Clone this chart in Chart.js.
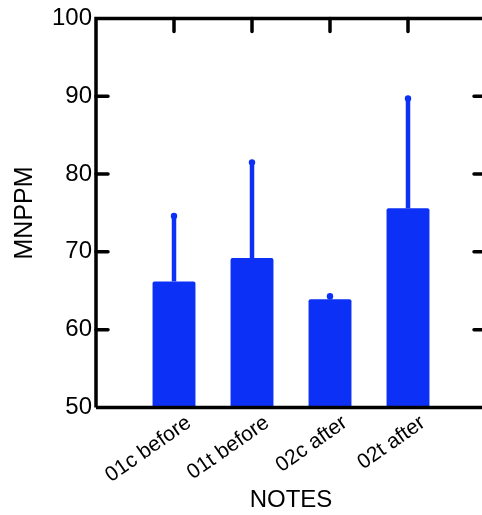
<!DOCTYPE html>
<html>
<head>
<meta charset="utf-8">
<script src="https://cdn.jsdelivr.net/npm/chart.js@4/dist/chart.umd.min.js"></script>
<style>
  html, body { margin: 0; padding: 0; background: #fff; overflow: hidden; }
  #wrap { width: 490px; height: 515px; }
</style>
</head>
<body>
<div id="wrap"><canvas id="chart"></canvas></div>
<script>
// group means with the upper error (SD) on top of each bar
const NOTES = ["01c before", "01t before", "02c after", "02t after"];
const MNPPM = [66.2, 69.2, 63.9, 75.6];
const SD = [8.4, 12.3, 0.4, 14.1];
const Y_TICKS = [50, 60, 70, 80, 90, 100];

const BLUE = "#0c30f6";
const FONT = "'Liberation Sans', Arial, sans-serif";

// frame, inward ticks on top/right/left, and the error whiskers
const framePlugin = {
  id: "frame",
  afterDatasetsDraw(chart) {
    const { ctx, chartArea: a, scales } = chart;
    const xs = scales.x, ys = scales.y;
    ctx.save();

    // error bars
    ctx.strokeStyle = BLUE;
    ctx.fillStyle = BLUE;
    ctx.lineWidth = 4.5;
    MNPPM.forEach((m, i) => {
      const x = xs.getPixelForValue(i + 1);
      const y0 = ys.getPixelForValue(m);
      const y1 = ys.getPixelForValue(m + SD[i]);
      ctx.beginPath();
      ctx.moveTo(x, y0);
      ctx.lineTo(x, y1);
      ctx.stroke();
      ctx.beginPath();
      ctx.arc(x, y1, 3.2, 0, Math.PI * 2);
      ctx.fill();
    });

    ctx.strokeStyle = "#000";
    ctx.lineWidth = 3.5;
    ctx.beginPath();
    ctx.moveTo(a.left, a.bottom);
    ctx.lineTo(a.left, a.top);
    ctx.lineTo(a.right, a.top);
    ctx.lineTo(a.right, a.bottom);
    ctx.lineTo(a.left, a.bottom);
    ctx.stroke();

    ctx.lineCap = "round";
    ctx.beginPath();
    Y_TICKS.slice(1, -1).forEach((v) => {
      const y = ys.getPixelForValue(v);
      ctx.moveTo(a.left, y);
      ctx.lineTo(a.left + 12, y);
      ctx.moveTo(a.right, y);
      ctx.lineTo(a.right - 12, y);
    });
    NOTES.forEach((_, i) => {
      const x = xs.getPixelForValue(i + 1);
      ctx.moveTo(x, a.top);
      ctx.lineTo(x, a.top + 13);
    });
    ctx.stroke();
    ctx.restore();
  },
};

new Chart(document.getElementById("chart"), {
  type: "bar",
  data: {
    datasets: [
      {
        data: MNPPM.map((v, i) => ({ x: i + 1, y: v })),
        backgroundColor: BLUE,
        borderRadius: 2,
        barPercentage: 0.55,
        categoryPercentage: 1,
      },
    ],
  },
  options: {
    responsive: true,
    maintainAspectRatio: false,
    animation: false,
    layout: { padding: { top: 16, right: 4, left: 0, bottom: 0 } },
    plugins: { legend: { display: false }, tooltip: { enabled: false } },
    scales: {
      x: {
        type: "linear",
        min: 0,
        max: 5,
        offset: false,
        afterBuildTicks: (s) => { s.ticks = NOTES.map((_, i) => ({ value: i + 1 })); },
        afterFit: (s) => { s.height = 107.5; },
        grid: { display: false, drawTicks: false, offset: false },
        border: { display: false },
        ticks: {
          callback: (v) => NOTES[v - 1],
          color: "#000",
          font: { family: FONT, size: 21 },
          minRotation: 35,
          maxRotation: 35,
          padding: 3,
          labelOffset: 15,
        },
        title: {
          display: true,
          text: "NOTES",
          color: "#000",
          font: { family: FONT, size: 24 },
          padding: { top: 0, bottom: 0 },
        },
      },
      y: {
        min: 50,
        max: 100,
        afterBuildTicks: (s) => { s.ticks = Y_TICKS.map((v) => ({ value: v })); },
        afterFit: (s) => { s.width = 96; },
        grid: { display: false, drawTicks: false },
        border: { display: false },
        ticks: {
          color: "#000",
          font: { family: FONT, size: 24 },
          padding: 4,
        },
        title: {
          display: true,
          text: "MNPPM",
          color: "#000",
          font: { family: FONT, size: 25 },
          padding: { top: 10, bottom: 0 },
        },
      },
    },
  },
  plugins: [framePlugin],
});
</script>
</body>
</html>
